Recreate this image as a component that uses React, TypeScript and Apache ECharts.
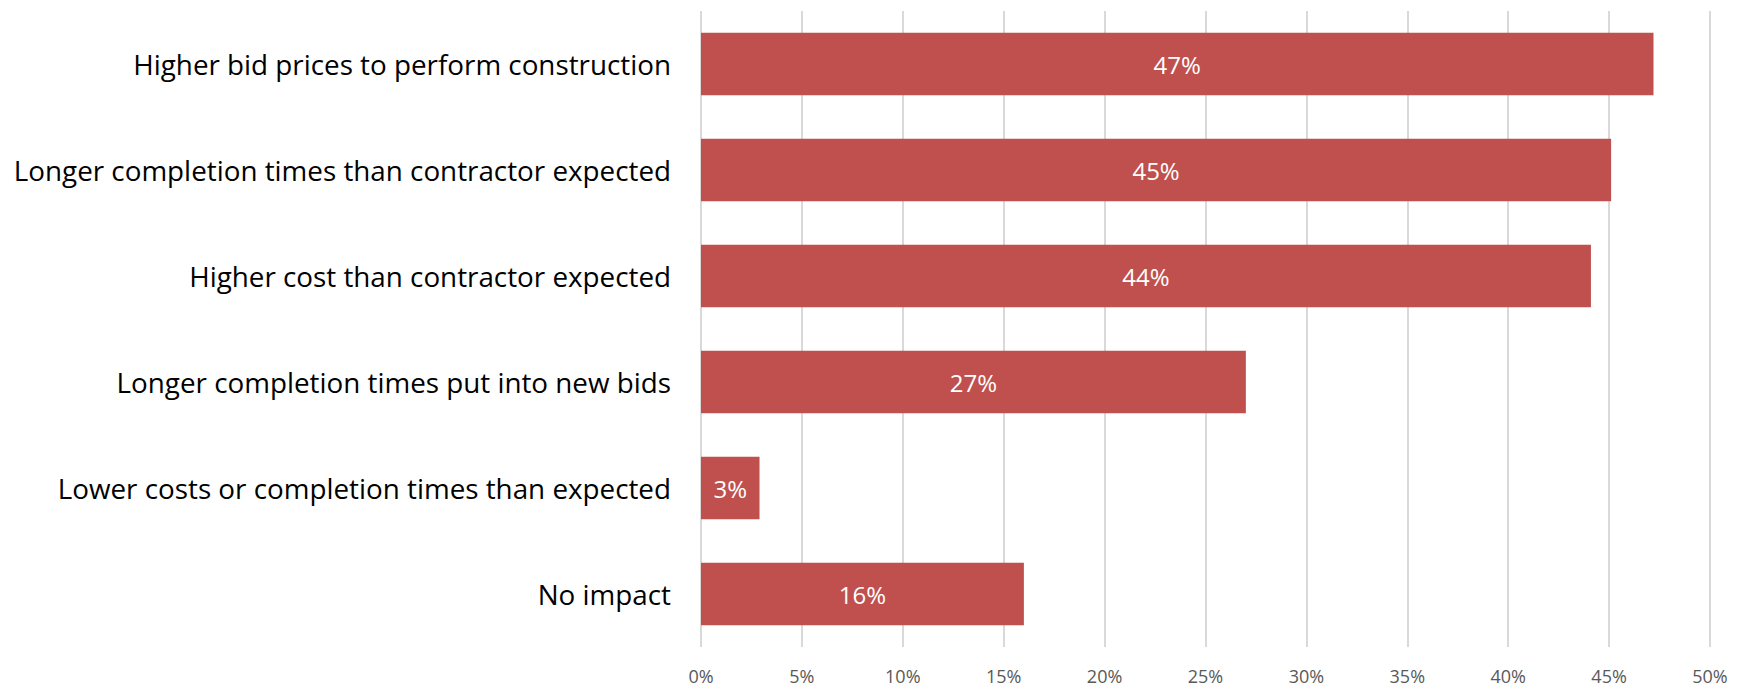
import React, { useEffect, useRef } from "react";
import * as echarts from "echarts";

const categories = [
  "Higher bid prices to perform construction",
  "Longer completion times than contractor expected",
  "Higher cost than contractor expected",
  "Longer completion times put into new bids",
  "Lower costs or completion times than expected",
  "No impact",
];
const values = [47.2, 45.1, 44.1, 27.0, 2.9, 16.0];
const tickMin = 0;
const tickMax = 50;
const tickStep = 5;

export default function App() {
  const ref = useRef<HTMLDivElement>(null);
  useEffect(() => {
    if (!ref.current) return;
    const chart = echarts.init(ref.current, undefined, { renderer: "svg" });
    chart.setOption({
      animation: false,
      grid: { left: 693, right: 32, top: 3, bottom: 42, containLabel: false },
      xAxis: {
        type: "value",
        min: tickMin,
        max: tickMax,
        interval: tickStep,
        axisLine: { show: false },
        axisTick: { show: false },
        splitLine: { show: true, lineStyle: { color: "#D9D9D9", width: 2 } },
        axisLabel: {
          formatter: "{value}%",
          color: "#595959",
          fontFamily: "Open Sans",
          fontSize: 18,
          margin: 20,
        },
      },
      yAxis: {
        type: "category",
        inverse: true,
        data: categories,
        axisLine: { show: false },
        axisTick: { show: false },
        axisLabel: {
          color: "#000000",
          fontFamily: "Open Sans",
          fontSize: 27.8,
          margin: 30,
        },
      },
      series: [
        {
          type: "bar",
          data: values,
          barCategoryGap: "41%",
          itemStyle: { color: "#C0504D" },
          label: {
            show: true,
            position: "inside",
            color: "#FFFFFF",
            fontFamily: "Open Sans",
            fontSize: 24,
            formatter: (p: any) => Math.round(p.value) + "%",
          },
        },
      ],
    });
    return () => chart.dispose();
  }, []);
  return <div ref={ref} style={{ width: 1734, height: 681 }} />;
}
